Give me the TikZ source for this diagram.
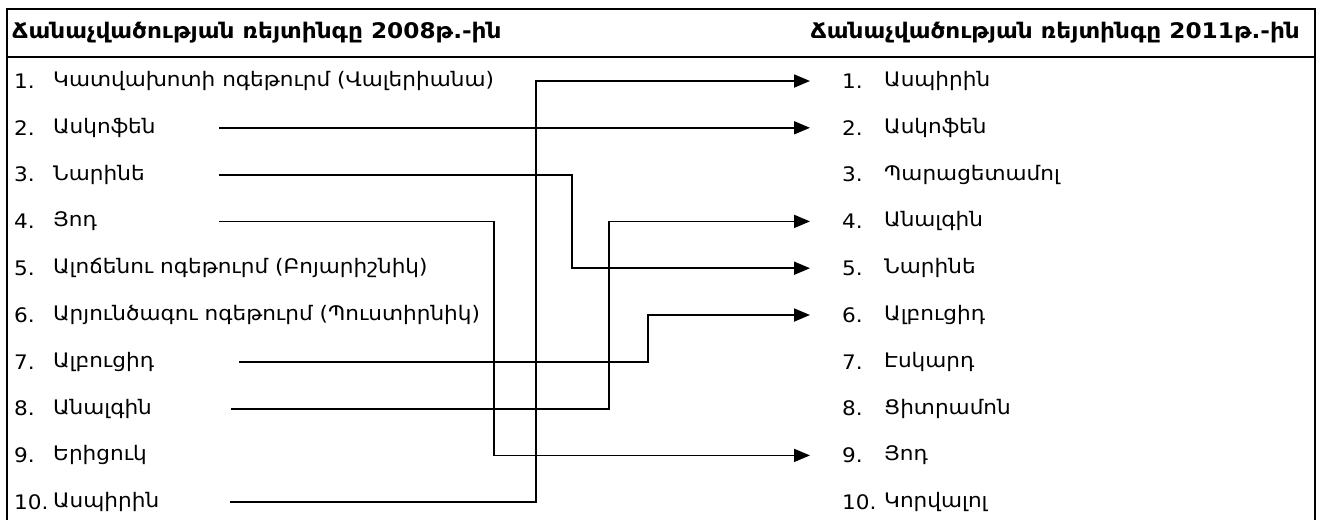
\documentclass[tikz,border=0pt]{standalone}
\usepackage{fontspec}
\setmainfont{DejaVu Sans}[FakeStretch=1.08]
\usetikzlibrary{arrows.meta}
\begin{document}
\begin{tikzpicture}[x=1pt,y=-1pt,
  frameline/.style={line width=1.3pt,draw=black},
  item/.style={anchor=west,inner sep=0pt,font=\fontsize{20}{22}\selectfont},
  head/.style={anchor=west,inner sep=0pt,font=\fontsize{21.5}{24}\selectfont\bfseries},
  conn/.style={line width=1.8pt,draw=black},
  arr/.style={conn,-{Triangle[length=16pt,width=13pt]}}]
\useasboundingbox (0,0) rectangle (1324,520);
\draw[frameline] (7,520) -- (7,9) -- (1315,9) -- (1315,520);
\draw[frameline] (7,57) -- (1315,57);
\node[head] (hl) at (12,33) {Ճանաչվածության ռեյտինգը 2008թ.-ին};
\node[head,anchor=east] (hr) at (1300,33) {Ճանաչվածության ռեյտինգը 2011թ.-ին};
% left column
\foreach \i/\t [count=\k] in {1./Կատվախոտի ոգեթուրմ (Վալերիանա),2./Ասկոֆեն,3./Նարինե,4./Յոդ,5./Ալոճենու ոգեթուրմ (Բոյարիշնիկ),6./Արյունծագու ոգեթուրմ (Պուստիրնիկ),7./Ալբուցիդ,8./Անալգին,9./Երիցուկ,10./Ասպիրին}{
  \node[item] (ln\k) at (14,{81+(\k-1)*46.8}) {\i};
  \node[item] (lt\k) at (53,{81+(\k-1)*46.8}) {\t};
}
% right column
\foreach \i/\t [count=\k] in {1./Ասպիրին,2./Ասկոֆեն,3./Պարացետամոլ,4./Անալգին,5./Նարինե,6./Ալբուցիդ,7./Էսկարդ,8./Ցիտրամոն,9./Յոդ,10./Կորվալոլ}{
  \node[item] (rn\k) at (842,{81+(\k-1)*46.8}) {\i};
  \node[item] (rt\k) at (884,{81+(\k-1)*46.8}) {\t};
}
% connector ends (row y = 81 + (k-1)*46.8)
\coordinate (s2) at (219,127.8);
\coordinate (s3) at (219,174.6);
\coordinate (s4) at (219,221.4);
\coordinate (s7) at (239,361.8);
\coordinate (s8) at (231,408.6);
\coordinate (s10) at (230,502.2);
\coordinate (b1) at (536,81);
\coordinate (b5) at (572,268.2);
\coordinate (b9) at (494,455.4);
\coordinate (b6) at (648,315);
\coordinate (b4) at (609,221.4);
\coordinate (t1) at (810,81);
\coordinate (t2) at (810,127.8);
\coordinate (t4) at (810,221.4);
\coordinate (t5) at (810,268.2);
\coordinate (t6) at (810,315);
\coordinate (t9) at (810,455.4);
\draw[arr] (s10) -| (b1) -- (t1);
\draw[arr] (s2) -- (t2);
\draw[arr] (s3) -| (b5) -- (t5);
\draw[arr] (s4) -| (b9) -- (t9);
\draw[arr] (s7) -| (b6) -- (t6);
\draw[arr] (s8) -| (b4) -- (t4);
\end{tikzpicture}
\end{document}
